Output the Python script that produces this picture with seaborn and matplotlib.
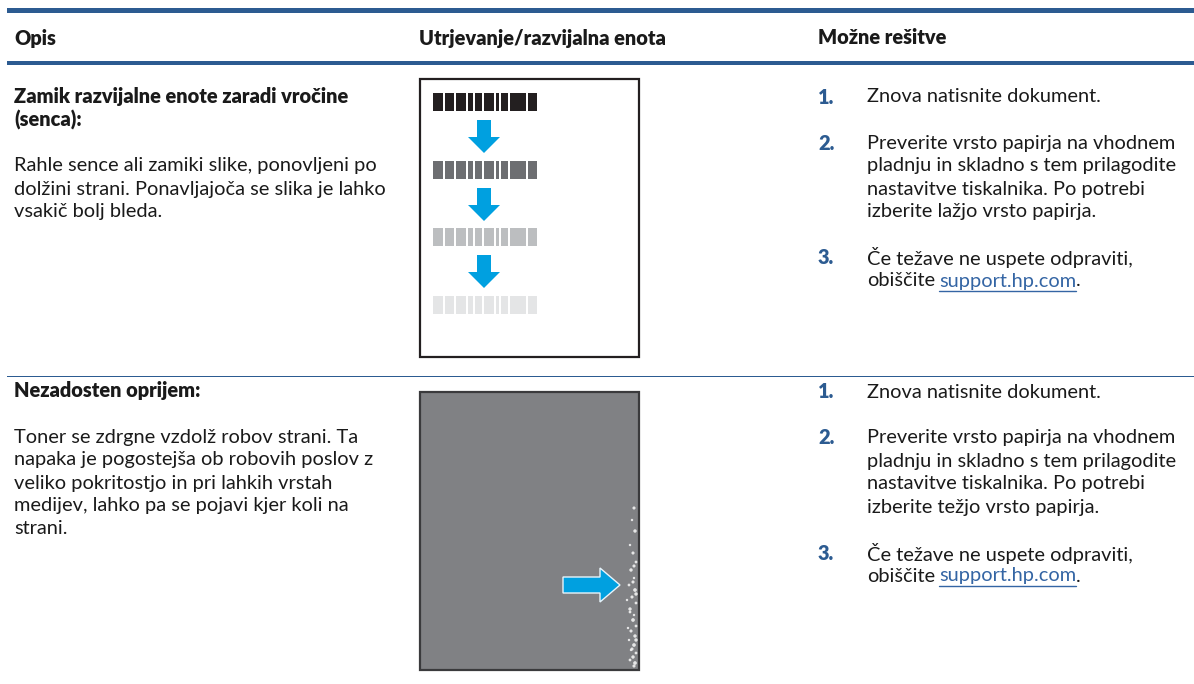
import matplotlib
matplotlib.use("Agg")
import matplotlib.pyplot as plt
from matplotlib.patches import Rectangle, Polygon
import seaborn as sns

# table content
headers = ["Opis", "Utrjevanje/razvijalna enota", "Možne rešitve"]

row1_title = ["Zamik razvijalne enote zaradi vročine", "(senca):"]
row1_body = ["Rahle sence ali zamiki slike, ponovljeni po",
             "dolžini strani. Ponavljajoča se slika je lahko",
             "vsakič bolj bleda."]
row1_steps = [["Znova natisnite dokument."],
              ["Preverite vrsto papirja na vhodnem",
               "pladnju in skladno s tem prilagodite",
               "nastavitve tiskalnika. Po potrebi",
               "izberite lažjo vrsto papirja."],
              ["Če težave ne uspete odpraviti,", "obiščite"]]

row2_title = ["Nezadosten oprijem:"]
row2_body = ["Toner se zdrgne vzdolž robov strani. Ta",
             "napaka je pogostejša ob robovih poslov z",
             "veliko pokritostjo in pri lahkih vrstah",
             "medijev, lahko pa se pojavi kjer koli na",
             "strani."]
row2_steps = [["Znova natisnite dokument."],
              ["Preverite vrsto papirja na vhodnem",
               "pladnju in skladno s tem prilagodite",
               "nastavitve tiskalnika. Po potrebi",
               "izberite težjo vrsto papirja."],
              ["Če težave ne uspete odpraviti,", "obiščite"]]

link_text = "support.hp.com"

# fading ghost image levels (dark -> light)
ghost_levels = ["#231f20", "#6d6e71", "#bcbec0", "#e4e5e6"]
bar_blocks = [(0, 10), (12, 9), (23, 10), (35, 5), (42, 7), (51, 10),
              (63, 3), (68, 7), (77, 16), (95, 9)]

# toner speckles along the right edge of the second sample
speck_x = [634, 632, 635, 630, 633, 636, 631, 634, 629, 635, 632, 636, 630, 634,
           633, 636, 631, 635, 629, 634, 632, 636, 633, 630, 635, 634, 631, 636,
           627, 633, 630, 636, 628, 634]
speck_y = [508, 520, 531, 545, 553, 562, 570, 578, 585, 590, 597, 603, 609, 615,
           620, 626, 631, 636, 640, 645, 649, 653, 657, 660, 663, 666, 650, 640,
           600, 582, 612, 594, 628, 566]
speck_s = [5, 3, 6, 3, 5, 4, 6, 3, 4, 7, 5, 4, 6, 3,
           7, 4, 5, 6, 3, 7, 5, 4, 6, 4, 7, 5, 3, 6,
           3, 5, 4, 6, 3, 5]

blue = "#2c5b91"
arrow_blue = "#00a0e0"
text_col = "#1a1a1a"

sns.set_theme(style="white")
plt.rcParams["font.family"] = ["Lato", "DejaVu Sans"]

fig = plt.figure(figsize=(11.94, 6.84), dpi=100)
ax = fig.add_axes([0, 0, 1, 1])
ax.set_xlim(0, 1194)
ax.set_ylim(684, 0)
ax.axis("off")

fs = 14.4
lh = 23
heavy = "heavy"

# header rules
ax.add_patch(Rectangle((7, 8), 1187, 5, color=blue, lw=0))
ax.add_patch(Rectangle((7, 61), 1187, 3.5, color=blue, lw=0))
ax.add_patch(Rectangle((7, 375.5), 1187, 1.3, color=blue, lw=0))

for x, h in zip([14, 419, 818], headers):
    ax.text(x, 38, h, fontsize=fs, fontweight=heavy, color=text_col, va="center")


def write_lines(x, y0, lines, bold=False):
    out = []
    for i, s in enumerate(lines):
        out.append(ax.text(x, y0 + i * lh, s, fontsize=fs, color=text_col, va="center",
                           fontweight=heavy if bold else "normal"))
    return out


def write_steps(y0, steps):
    y = y0
    last = None
    for n, lines in enumerate(steps, 1):
        ax.text(818, y, f"{n}.", fontsize=fs, fontweight=heavy, color=blue, va="center")
        last = write_lines(867, y, lines)
        y += lh * (len(lines) + 1)
    # link after the last line
    t = last[-1]
    yl = t.get_position()[1]
    fig.canvas.draw()
    bb = t.get_window_extent().transformed(ax.transData.inverted())
    lt = ax.text(bb.x1 + 4, yl, link_text, fontsize=fs, color="#3465a4", va="center")
    fig.canvas.draw()
    bb2 = lt.get_window_extent().transformed(ax.transData.inverted())
    ax.plot([bb2.x0, bb2.x1], [yl + 10, yl + 10], color="#3465a4", lw=1)
    ax.text(bb2.x1, yl, ".", fontsize=fs, color=text_col, va="center")


def down_arrow(cx, top):
    pts = [(cx - 7, top), (cx + 7, top), (cx + 7, top + 17), (cx + 16, top + 17),
           (cx, top + 33), (cx - 16, top + 17), (cx - 7, top + 17)]
    ax.add_patch(Polygon(pts, closed=True, color=arrow_blue, lw=0))


# row 1
write_lines(14, 97, row1_title, bold=True)
write_lines(14, 166, row1_body)
write_steps(97, row1_steps)

ax.add_patch(Rectangle((420, 79), 219, 278, fill=False, ec="#231f20", lw=1.6))
strip_tops = [93, 161, 228, 296]
for top, col in zip(strip_tops, ghost_levels):
    ax.broken_barh([(433 + a, w) for a, w in bar_blocks], (top, 18), color=col, lw=0)
for top in [120, 188, 255]:
    down_arrow(484, top)

# row 2
write_lines(14, 391, row2_title, bold=True)
write_lines(14, 437, row2_body)
write_steps(392, row2_steps)

ax.add_patch(Rectangle((420, 392), 219, 278, fc="#808184", ec="#3a3a3c", lw=1.6))
ax.scatter(speck_x, speck_y, s=speck_s, color="#f2f2f2", lw=0, alpha=0.9, zorder=3)
pts = [(563, 577), (600, 577), (600, 568), (620, 585), (600, 602), (600, 593), (563, 593)]
ax.add_patch(Polygon(pts, closed=True, fc=arrow_blue, ec="#e8f4fb", lw=1, zorder=4))

fig.savefig("out.png", dpi=100)
